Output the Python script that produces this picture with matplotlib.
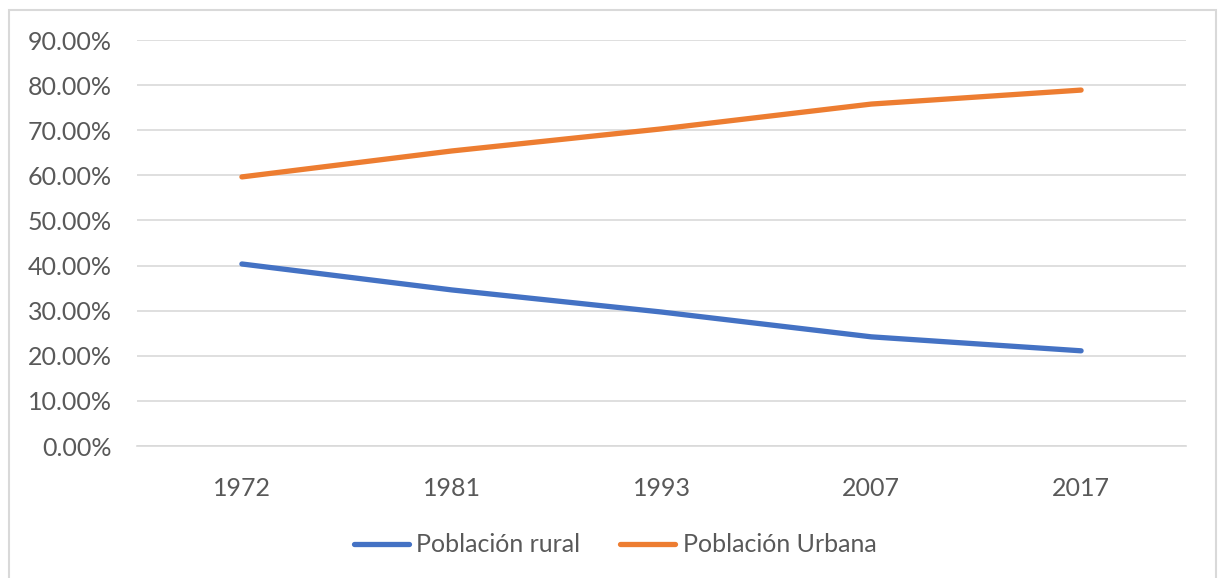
import matplotlib.pyplot as plt
from matplotlib.patches import Rectangle
from matplotlib.ticker import FuncFormatter

anios = ['1972', '1981', '1993', '2007', '2017']
rural = [40.35, 34.6, 29.7, 24.2, 21.1]
urbana = [59.65, 65.4, 70.3, 75.8, 78.9]
ticks_y = [0, 10, 20, 30, 40, 50, 60, 70, 80, 90]

plt.rcParams['font.family'] = ['Lato', 'DejaVu Sans']

fig = plt.figure(figsize=(12.21, 5.78), dpi=100)
#marco del grafico (abierto por abajo)
fig.patches.append(Rectangle((9/1221, -0.05), 1207/1221, 0.05 + 568/578, transform=fig.transFigure,
                             fill=False, edgecolor='#d9d9d9', linewidth=1.5))

ax = fig.add_axes([137/1221, 132/578, 1049/1221, 406/578])
x = range(len(anios))
ax.plot(x, rural, color='#4472c4', linewidth=3.8, solid_capstyle='round', label='Población rural')
ax.plot(x, urbana, color='#ed7d31', linewidth=3.8, solid_capstyle='round', label='Población Urbana')

ax.set_xlim(-0.5, 4.5)
ax.set_ylim(0, 90)
ax.set_xticks(list(x))
ax.set_xticklabels(anios)
ax.set_yticks(ticks_y)
ax.yaxis.set_major_formatter(FuncFormatter(lambda v, p: f'{v:.2f}%'))
ax.grid(axis='y', color='#d9d9d9', linewidth=1.2)
ax.set_axisbelow(True)
for s in ['top', 'right', 'left']:
    ax.spines[s].set_visible(False)
ax.spines['bottom'].set_color('#d9d9d9')
ax.spines['bottom'].set_linewidth(1.2)
ax.tick_params(axis='both', length=0, labelsize=18, colors='#595959')
ax.tick_params(axis='y', pad=18)
ax.tick_params(axis='x', pad=22)

fig.legend(loc='center', bbox_to_anchor=(615/1221, 1 - 545/578), ncol=2, frameon=False,
           fontsize=18, labelcolor='#595959', handlelength=2.2, handletextpad=0.3,
           columnspacing=1.6)

fig.savefig('out.png', dpi=100)
